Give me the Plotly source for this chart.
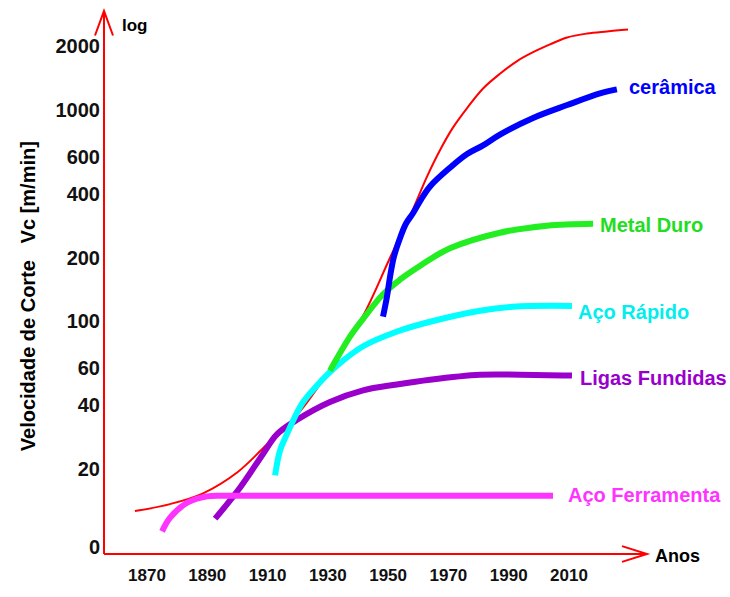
import plotly.graph_objects as go

# ---- data (year, cutting speed m/min) ----
red_years = [1866.0, 1877.6, 1888.6, 1899.9, 1908.5, 1919.8, 1930.7, 1941.7, 1950.6, 1958.3,
             1962.9, 1967.2, 1971.5, 1976.2, 1981.5, 1987.1, 1992.8, 1998.1, 2003.7, 2009.4,
             2016.0, 2022.6, 2029.6]
red_vals = [12.6, 13.6, 15.3, 19.2, 25.0, 36.0, 58.9, 106, 199, 340,
            483, 644, 824, 1020, 1263, 1483, 1703, 1875, 2042, 2203,
            2298, 2350, 2399]

ceramica_years = [1948.3, 1949.6, 1950.6, 1951.9, 1953.9, 1955.9, 1958.3, 1960.6, 1963.9, 1970.5,
                  1976.2, 1981.5, 1987.1, 1998.1, 2009.4, 2020.3, 2025.9]
ceramica_vals = [105, 130, 161, 201, 246, 289, 325, 370, 434, 532,
                 618, 679, 764, 916, 1054, 1197, 1250]

metal_duro_years = [1930.7, 1937.4, 1941.7, 1948.3, 1953.9, 1959.6, 1970.5, 1987.1, 2002.7, 2018.0]
metal_duro_vals = [58.2, 84.6, 102.5, 134, 157, 179, 221, 262, 283, 289]

aco_rapido_years = [1912.5, 1914.1, 1916.4, 1919.4, 1921.8, 1926.4, 1933.0, 1941.7, 1953.0, 1963.9,
                    1980.5, 1991.4, 2011.0]
aco_rapido_vals = [18.6, 24.3, 29.1, 36.0, 41.4, 49.6, 61.4, 76.0, 89.3, 99.3, 112, 117, 118]

ligas_years = [1892.6, 1900.9, 1908.5, 1913.1, 1919.8, 1930.7, 1941.7, 1952.9, 1963.9, 1980.5,
               1993.8, 2011.0]
ligas_vals = [11.6, 16.3, 23.5, 29.1, 34.1, 41.4, 47.0, 50.1, 52.8, 55.7, 55.7, 55.2]

ferramenta_years = [1875.0, 1877.6, 1883.3, 1889.9, 1897.5, 2004.7]
ferramenta_vals = [10.1, 11.7, 13.8, 14.8, 14.9, 14.9]

x_tick_vals = [1870, 1890, 1910, 1930, 1950, 1970, 1990, 2010]
y_tick_vals = [8.5, 20, 40, 60, 100, 200, 400, 600, 1000, 2000]
y_tick_text = ["0", "20", "40", "60", "100", "200", "400", "600", "1000", "2000"]

labels = ["cerâmica", "Metal Duro", "Aço Rápido", "Ligas Fundidas", "Aço Ferramenta"]

# ---- layout constants (pixels) ----
W, H = 730, 597
L, R, T, B = 104, 650, 12, 565
FONT = "Liberation Sans"


def px(xp):
    return (xp - L) / (R - L)


def py(yp):
    return (B - yp) / (B - T)


fig = go.Figure()

series = [
    (red_years, red_vals, "#FF0000", 2),
    (ligas_years, ligas_vals, "#9900CC", 6),
    (ferramenta_years, ferramenta_vals, "#FF33FF", 6),
    (aco_rapido_years, aco_rapido_vals, "#00FFFF", 6),
    (metal_duro_years, metal_duro_vals, "#22EE22", 6),
    (ceramica_years, ceramica_vals, "#0000FF", 6),
]
for xs, ys, col, w in series:
    fig.add_trace(go.Scatter(x=xs, y=ys, mode="lines",
                             line=dict(color=col, width=w, shape="spline", smoothing=1.0),
                             showlegend=False, hoverinfo="skip"))

label_pos = [
    (labels[0], 627, 89, "#0000FF"),
    (labels[1], 598, 229, "#22DD22"),
    (labels[2], 576, 318, "#00EEEE"),
    (labels[3], 578, 385, "#9900CC"),
    (labels[4], 566, 505, "#FF33FF"),
]
annotations = []
for txt, xp, yp, col in label_pos:
    annotations.append(dict(text=txt, x=px(xp), y=py(yp), xref="paper", yref="paper",
                            xanchor="left", yanchor="middle", showarrow=False,
                            font=dict(family=FONT, size=20, color=col, weight="bold")))

annotations.append(dict(text="log", x=px(120), y=py(26), xref="paper", yref="paper",
                        xanchor="left", yanchor="middle", showarrow=False,
                        font=dict(family=FONT, size=17, color="black", weight="bold")))
annotations.append(dict(text="Anos", x=px(653), y=py(567), xref="paper", yref="paper",
                        xanchor="left", yanchor="middle", showarrow=False,
                        font=dict(family=FONT, size=18, color="black", weight="bold")))
annotations.append(dict(text="Velocidade de Corte\u00a0\u00a0\u00a0Vc [m/min]", x=px(28), y=py(302),
                        xref="paper", yref="paper", xanchor="center", yanchor="middle",
                        textangle=-90, showarrow=False,
                        font=dict(family=FONT, size=20, color="black", weight="bold")))

shapes = [
    # y-axis line up to the arrow tip, with open-V arrowhead
    dict(type="line", xref="paper", yref="paper", x0=px(104), x1=px(104), y0=py(565), y1=py(11),
         line=dict(color="#FF0000", width=2)),
    dict(type="path", xref="paper", yref="paper",
         path=f"M {px(95)},{py(36)} L {px(104)},{py(11)} L {px(113)},{py(36)}",
         line=dict(color="#FF0000", width=2)),
    # x-axis line and arrowhead
    dict(type="line", xref="paper", yref="paper", x0=px(104), x1=px(647), y0=py(565), y1=py(565),
         line=dict(color="#FF0000", width=2)),
    dict(type="path", xref="paper", yref="paper",
         path=f"M {px(622)},{py(557)} L {px(647)},{py(565)} L {px(622)},{py(573)}",
         line=dict(color="#FF0000", width=2)),
]

x0_year = 1870 + (L - 147) / 3.014
x1_year = 1870 + (R - 147) / 3.014
y0_log = 3.301 - (B - 47) / 215.5
y1_log = 3.301 - (T - 47) / 215.5

fig.update_layout(
    width=W, height=H, autosize=False,
    margin=dict(l=L, r=W - R, t=T, b=H - B, pad=0),
    paper_bgcolor="white", plot_bgcolor="white",
    annotations=annotations, shapes=shapes,
    xaxis=dict(range=[x0_year, x1_year], showgrid=False, zeroline=False, showline=False,
               tickmode="array", tickvals=x_tick_vals, ticks="", ticklabelstandoff=9,
               tickfont=dict(family=FONT, size=17, color="#111111", weight="bold")),
    yaxis=dict(type="log", range=[y0_log, y1_log], showgrid=False, zeroline=False, showline=False,
               tickmode="array", tickvals=y_tick_vals, ticktext=y_tick_text, ticks="",
               ticklabelstandoff=3,
               tickfont=dict(family=FONT, size=20, color="#111111", weight="bold")),
)

post = (
    "var s=document.createElement('style');"
    "s.textContent='html,body{margin:0!important;padding:0!important;overflow:hidden;}';"
    "document.head.appendChild(s);"
)

fig.write_html("out.html", config={"displayModeBar": False, "staticPlot": True},
               post_script=post)
